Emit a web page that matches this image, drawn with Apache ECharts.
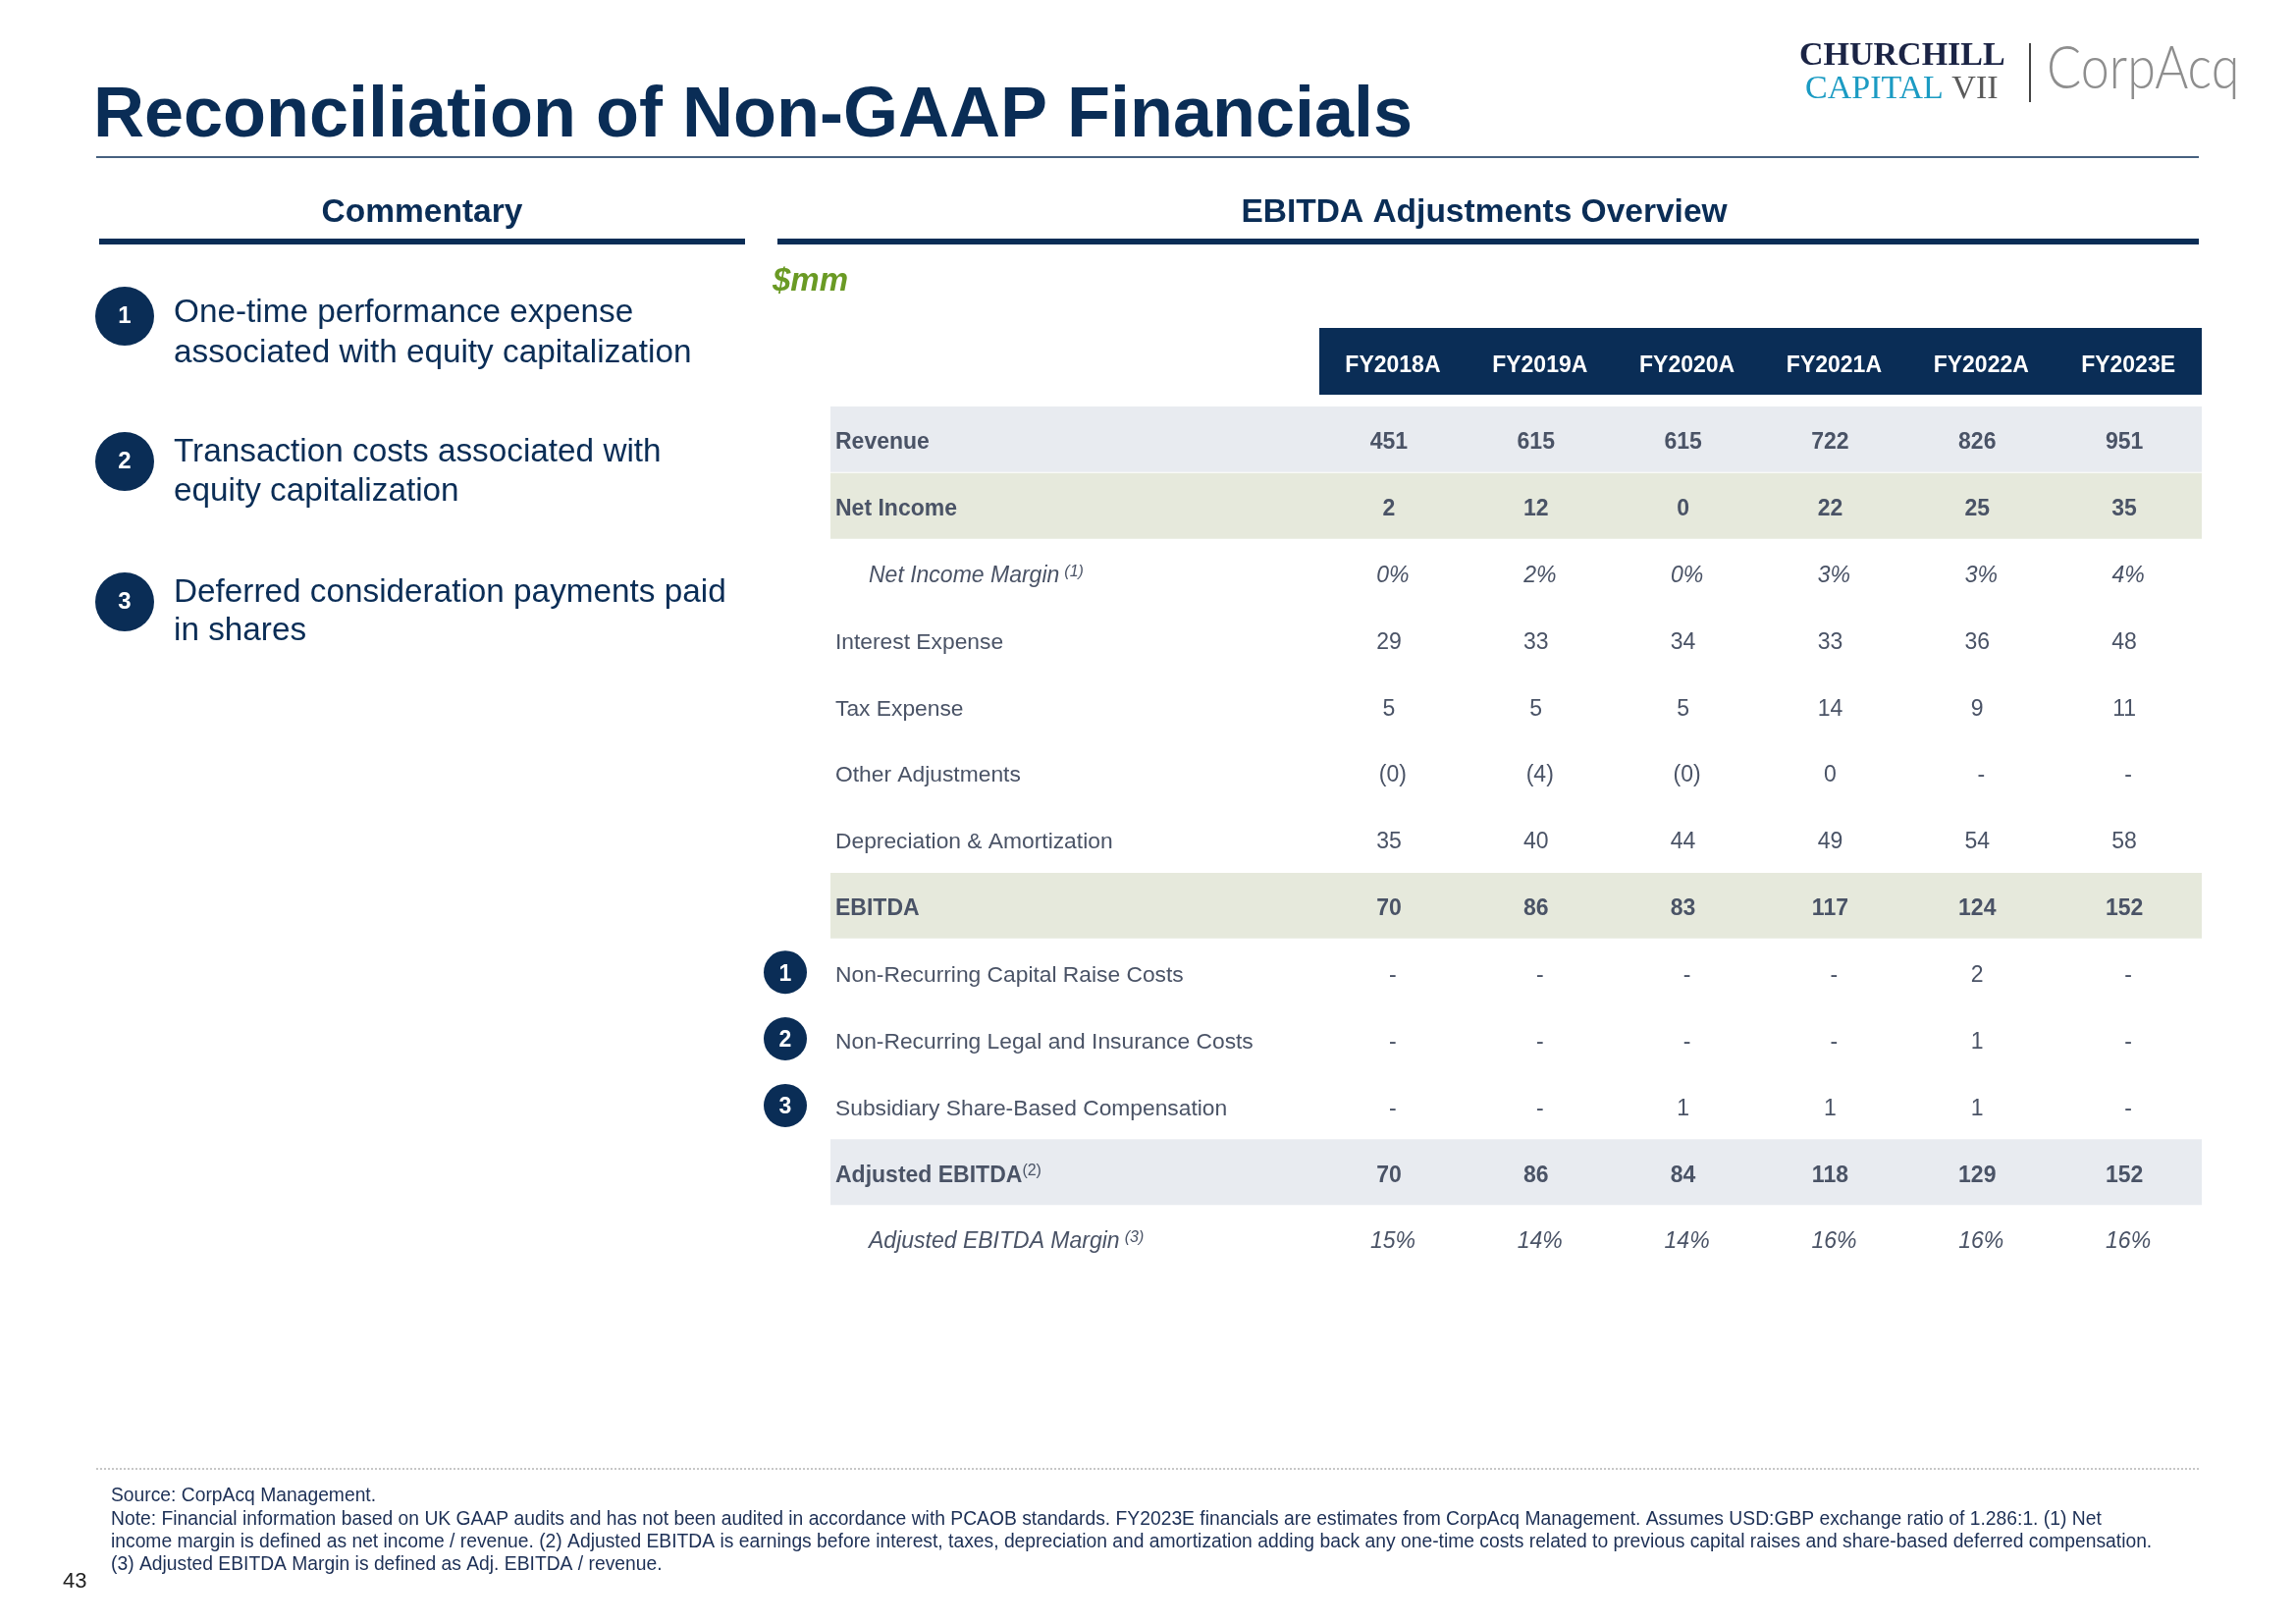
<!DOCTYPE html>
<html><head><meta charset="utf-8">
<script src="https://cdn.jsdelivr.net/npm/echarts@6/dist/echarts.min.js"></script>
<style>html,body{margin:0;padding:0;background:#fff}#c{width:2339px;height:1654px}</style>
</head><body><div id="c"></div>
<script>
// ---------- data ----------
const years = ['FY2018A','FY2019A','FY2020A','FY2021A','FY2022A','FY2023E'];
const rowNames = ['Revenue','Net Income','Net Income Margin','Interest Expense','Tax Expense','Other Adjustments','Depreciation & Amortization','EBITDA','Non-Recurring Capital Raise Costs','Non-Recurring Legal and Insurance Costs','Subsidiary Share-Based Compensation','Adjusted EBITDA','Adjusted EBITDA Margin'];
const revenue = [451,615,615,722,826,951];
const netIncome = [2,12,0,22,25,35];
const netIncomeMargin = [0,2,0,3,3,4];
const interestExpense = [29,33,34,33,36,48];
const taxExpense = [5,5,5,14,9,11];
const otherAdjustments = [-0,-4,-0,0,null,null];
const depreciationAmortization = [35,40,44,49,54,58];
const ebitda = [70,86,83,117,124,152];
const capitalRaiseCosts = [null,null,null,null,2,null];
const legalInsuranceCosts = [null,null,null,null,1,null];
const shareBasedComp = [null,null,1,1,1,null];
const adjustedEbitda = [70,86,84,118,129,152];
const adjustedEbitdaMargin = [15,14,14,16,16,16];
const rowKinds = ['bold','bold','pct','num','num','num','num','bold','num','num','num','bold','pct'];
const rowSup = {2:'(1)', 11:'(2)', 12:'(3)'};
const badgeRows = [8, 9, 10];
const badgeLabels = ['1', '2', '3'];
const bandRows = [0,1,7,11];
const bandTone = [0,1,1,0];
const commentary = [
  ['One-time performance expense','associated with equity capitalization'],
  ['Transaction costs associated with','equity capitalization'],
  ['Deferred consideration payments paid','in shares']
];
const footnotes = [
  'Source: CorpAcq Management.',
  'Note: Financial information based on UK GAAP audits and has not been audited in accordance with PCAOB standards. FY2023E financials are estimates from CorpAcq Management. Assumes USD:GBP exchange ratio of 1.286:1. (1) Net',
  'income margin is defined as net income / revenue. (2) Adjusted EBITDA is earnings before interest, taxes, depreciation and amortization adding back any one-time costs related to previous capital raises and share-based deferred compensation.',
  '(3) Adjusted EBITDA Margin is defined as Adj. EBITDA / revenue.'
];
const rowValues = [revenue, netIncome, netIncomeMargin, interestExpense, taxExpense, otherAdjustments, depreciationAmortization, ebitda, capitalRaiseCosts, legalInsuranceCosts, shareBasedComp, adjustedEbitda, adjustedEbitdaMargin];

// ---------- style ----------
const FONT = '"Liberation Sans", Arial, Helvetica, sans-serif';
const SERIF = '"Liberation Serif", "Times New Roman", serif';
const NAVY = '#0a2d56';
const GRAY = '#4a5366';
const BANDS = ['#e8ebf0', '#e6e9dc'];

const cellInfo = [];
rowValues.forEach((arr, r) => arr.forEach((v, c) => {
  let text, paren = false;
  if (rowKinds[r] === 'pct') text = v + '%';
  else if (v === null) text = '-';
  else if (v < 0 || Object.is(v, -0)) { text = '(' + Math.abs(v) + ')'; paren = true; }
  else text = String(v);
  cellInfo.push({c, r, text, kind: rowKinds[r], plain: !(v === null || paren || rowKinds[r]==='pct')});
}));

const chart = echarts.init(document.getElementById('c'), null, {renderer: 'canvas', width: 2339, height: 1654});

function txt(x, y, text, o) {
  o = o || {};
  return {type: 'text', x, y, z: o.z || 5, scaleX: o.scaleX || 1, style: {
    text, fill: o.color || NAVY, fontFamily: o.family || FONT, fontSize: o.size || 20,
    fontWeight: o.weight || 'normal', fontStyle: o.style || 'normal',
    align: o.align || 'left', textAlign: o.align || 'left',
    verticalAlign: 'middle', textVerticalAlign: 'middle', rich: o.rich
  }};
}

const graphics = [];
// title
graphics.push(txt(95, 119, 'Reconciliation of Non-GAAP Financials', {size: 72, weight: 'bold'}));
graphics.push({type: 'line', shape: {x1: 98, y1: 160, x2: 2240, y2: 160}, style: {stroke: NAVY, lineWidth: 1.5}});
// section headers
graphics.push(txt(430, 217, 'Commentary', {size: 33.5, weight: 'bold', align: 'center'}));
graphics.push({type: 'rect', shape: {x: 101, y: 243, width: 658, height: 6}, style: {fill: NAVY}});
graphics.push(txt(1512, 217, 'EBITDA Adjustments Overview', {size: 33.5, weight: 'bold', align: 'center'}));
graphics.push({type: 'rect', shape: {x: 792, y: 243, width: 1448, height: 6}, style: {fill: NAVY}});
graphics.push(txt(787, 287, '$mm', {size: 33, weight: 'bold', style: 'italic', color: '#6a9a24'}));
// table header box
graphics.push({type: 'rect', z: -1, shape: {x: 1344, y: 334, width: 899, height: 68}, style: {fill: NAVY}});
// commentary
const cy = [[319, 360], [461, 501], [604, 643]];
const ccy = [322, 470, 613];
commentary.forEach((lines, k) => {
  graphics.push({type: 'circle', shape: {cx: 127, cy: ccy[k], r: 30}, style: {fill: NAVY}});
  graphics.push(txt(127, ccy[k], String(k + 1), {size: 24, weight: 'bold', color: '#fff', align: 'center'}));
  lines.forEach((l, j) => graphics.push(txt(177, cy[k][j], l, {size: 33.3})));
});
// footer
graphics.push({type: 'line', shape: {x1: 98, y1: 1496, x2: 2240, y2: 1496}, style: {stroke: '#b5b5b5', lineWidth: 1.5, lineDash: [2, 2]}});
footnotes.forEach((l, j) => graphics.push(txt(113, [1524, 1548, 1571, 1594][j], l, {size: 19.3, color: '#1c2f55'})));
graphics.push(txt(64, 1611, '43', {size: 22, color: '#222'}));
// logo
graphics.push(txt(1833, 57, 'CHURCHILL', {size: 34, weight: 'bold', family: SERIF, color: '#1b2445'}));
graphics.push(txt(1839, 91, '{a|CAPITAL} {b|VII}', {size: 34, family: SERIF, rich: {
  a: {fontFamily: SERIF, fontSize: 34, fill: '#1b9bc3', color: '#1b9bc3'},
  b: {fontFamily: SERIF, fontSize: 34, fill: '#5a5a5a', color: '#5a5a5a'}}}));
graphics.push({type: 'line', shape: {x1: 2068, y1: 44, x2: 2068, y2: 104}, style: {stroke: '#444', lineWidth: 2}});
graphics.push(txt(2085, 70, 'CorpAcq', {size: 62, weight: 300, family: '"Lato", "Open Sans", sans-serif', color: '#8e8e8e', scaleX: 0.84}));

const PADT = 7; // nudges glyphs onto the row centre
const option = {
  animation: false,
  backgroundColor: '#fff',
  grid: {left: 1344, top: 413.5, width: 899, height: 882},
  xAxis: {
    type: 'category', data: years, position: 'top', z: 10,
    axisLine: {show: false}, axisTick: {show: false}, splitLine: {show: false},
    axisLabel: {interval: 0, color: '#fff', fontWeight: 'bold', fontSize: 23, fontFamily: FONT, margin: 29}
  },
  yAxis: {
    type: 'category', data: rowNames, inverse: true, z: 10,
    axisLine: {show: false}, axisTick: {show: false}, splitLine: {show: false},
    axisLabel: {
      interval: 0, margin: 566, align: 'left', color: GRAY, fontFamily: FONT, fontSize: 23,
      formatter: (val, i) => {
        const k = rowKinds[i];
        if (k === 'bold') return '{b|' + val + '}' + (rowSup[i] ? '{supb|' + rowSup[i] + '}' : '');
        if (k === 'pct') return '{i|' + val + '}{supi|' + rowSup[i] + '}';
        return '{n|' + val + '}';
      },
      rich: {
        b: {fontFamily: FONT, fontSize: 23, fontWeight: 'bold', color: GRAY, padding: [PADT, 0, 0, 73]},
        n: {fontFamily: FONT, fontSize: 22.8, color: GRAY, padding: [PADT, 0, 0, 73]},
        i: {fontFamily: FONT, fontSize: 23, fontStyle: 'italic', color: GRAY, padding: [PADT, 5, 0, 107]},
        supi: {fontFamily: FONT, fontSize: 16, fontStyle: 'italic', color: GRAY, verticalAlign: 'top', padding: [PADT - 1, 0, 0, 0]},
        supb: {fontFamily: FONT, fontSize: 16, color: GRAY, verticalAlign: 'top', padding: [PADT - 1, 0, 0, 0]}
      }
    }
  },
  graphic: {elements: graphics},
  series: [
    {
      type: 'custom', name: 'bands', z: 1, silent: true,
      encode: {x: 0, y: 1},
      data: bandRows.map((r, k) => [0, r, bandTone[k]]),
      renderItem: (params, api) => {
        const p = api.coord([0, api.value(1)]);
        const h = api.size([0, 1])[1];
        const cs = params.coordSys;
        return {type: 'rect', shape: {x: cs.x - 498, y: p[1] - h / 2 + 0.5, width: cs.width + 498, height: h - 1},
                style: {fill: BANDS[api.value(2)]}};
      }
    },
    {
      type: 'custom', name: 'badges', z: 6, silent: true,
      encode: {x: 0, y: 1},
      data: badgeRows.map(r => [0, r]),
      renderItem: (params, api) => {
        const p = api.coord([0, api.value(1)]);
        const cx = params.coordSys.x - 544;
        return {type: 'group', children: [
          {type: 'circle', shape: {cx, cy: p[1], r: 22}, style: {fill: NAVY}},
          {type: 'text', x: cx, y: p[1] + 2, style: {text: badgeLabels[params.dataIndex], fill: '#fff',
            fontFamily: FONT, fontSize: 23, fontWeight: 'bold', align: 'center', verticalAlign: 'middle'}}
        ]};
      }
    },
    {
      type: 'custom', name: 'cells', z: 5, silent: true,
      encode: {x: 0, y: 1},
      data: cellInfo.map(d => [d.c, d.r]),
      renderItem: (params, api) => {
        const info = cellInfo[params.dataIndex];
        const p = api.coord([api.value(0), api.value(1)]);
        return {type: 'text', x: p[0] + (info.plain ? -4 : 0), y: p[1] + PADT / 2, style: {
          text: info.text, fill: GRAY, fontFamily: FONT, fontSize: 23,
          fontWeight: info.kind === 'bold' ? 'bold' : 'normal',
          fontStyle: info.kind === 'pct' ? 'italic' : 'normal',
          align: 'center', verticalAlign: 'middle'}};
      }
    }
  ]
};
chart.setOption(option);
</script>
</body></html>
